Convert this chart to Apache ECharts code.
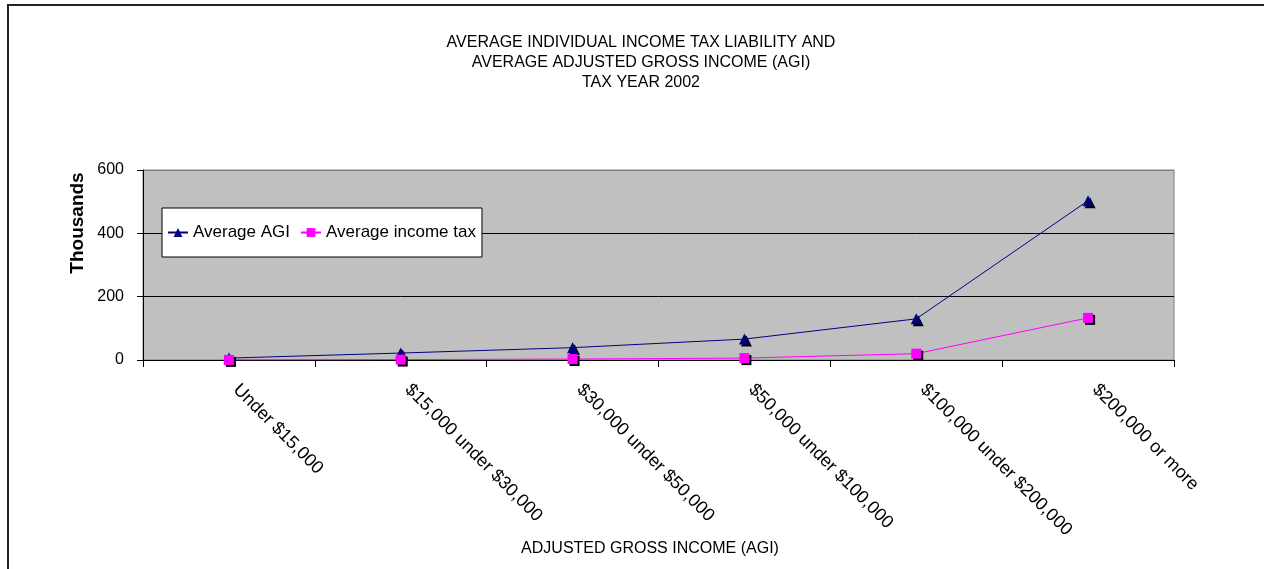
<!DOCTYPE html>
<html>
<head>
    <meta charset="utf-8">
    <title>Average income tax liability and AGI, 2002</title>
    <script src="https://cdn.jsdelivr.net/npm/echarts@6/dist/echarts.min.js"></script>
    <style>
        html, body { margin: 0; padding: 0; background: #fff; }
    </style>
</head>
<body>
    <div id="main" style="width: 1264px;height:569px;"></div>

    <script type="text/javascript">
        // income brackets
        var categories = ['Under $15,000', '$15,000 under $30,000', '$30,000 under $50,000',
            '$50,000 under $100,000', '$100,000 under $200,000', '$200,000 or more'];
        // values in thousands of dollars
        var avgAgi = [6, 22, 39, 66, 130, 503];
        var avgTax = [0.3, 1.3, 3, 6, 20, 133];

        var titleLines = ['AVERAGE INDIVIDUAL INCOME TAX LIABILITY AND',
            'AVERAGE ADJUSTED GROSS INCOME (AGI)', 'TAX YEAR 2002'];

        var font = 'Liberation Sans, Arial, sans-serif';
        var myChart = echarts.init(document.getElementById('main'));

        var shadow = { shadowColor: '#000', shadowOffsetX: 2, shadowOffsetY: 2, shadowBlur: 0 };

        var option = {
            animation: false,
            textStyle: { fontFamily: font },
            graphic: [
                // outer frame (left and top edges)
                {
                    type: 'polyline',
                    shape: { points: [[8, 600], [8, 5], [1300, 5]] },
                    style: { stroke: '#222', lineWidth: 2, fill: null }
                },
                {
                    type: 'text', x: 641, y: 33,
                    style: {
                        text: titleLines.join('\n'), fontSize: 16, lineHeight: 20,
                        fontFamily: font, fill: '#000', textAlign: 'center'
                    }
                },
                {
                    type: 'text', x: 78, y: 223, rotation: Math.PI / 2,
                    style: {
                        text: 'Thousands', fontSize: 19, fontWeight: 'bold',
                        fontFamily: font, fill: '#000', textAlign: 'center', textVerticalAlign: 'middle'
                    }
                },
                {
                    type: 'text', x: 650, y: 549,
                    style: {
                        text: 'ADJUSTED GROSS INCOME (AGI)', fontSize: 16,
                        fontFamily: font, fill: '#000', textAlign: 'center', textVerticalAlign: 'middle'
                    }
                }
            ],
            legend: {
                left: 162, top: 208,
                orient: 'horizontal',
                padding: [16, 6, 16, 5],
                itemGap: 10, itemWidth: 20, itemHeight: 11,
                backgroundColor: '#fff', borderColor: '#000', borderWidth: 1,
                selectedMode: false,
                textStyle: { fontSize: 17, color: '#000', fontFamily: font },
                data: ['Average AGI', 'Average income tax']
            },
            grid: {
                left: 143, right: 90, top: 170, bottom: 209,
                show: true, backgroundColor: '#C0C0C0', borderColor: '#808080', borderWidth: 1
            },
            xAxis: {
                type: 'category',
                data: categories,
                boundaryGap: true,
                axisLine: { lineStyle: { color: '#000', width: 1 } },
                axisTick: { show: true, length: 7, inside: false, lineStyle: { color: '#000' } },
                axisLabel: {
                    rotate: -45, interval: 0, margin: 20, fontSize: 18, color: '#000',
                    fontFamily: font, padding: [0, 0, 0, 10]
                },
                splitLine: { show: false }
            },
            yAxis: {
                type: 'value',
                min: 0, max: 600, interval: 200,
                axisLine: { show: true, lineStyle: { color: '#000' } },
                axisTick: { show: true, length: 6, lineStyle: { color: '#000' } },
                axisLabel: { fontSize: 16, color: '#000', margin: 19, fontFamily: font },
                splitLine: { show: true, lineStyle: { color: ['#000', '#000', '#000', '#808080'], width: 1 } }
            },
            series: [
                {
                    name: 'Average AGI',
                    type: 'line',
                    data: avgAgi,
                    symbol: 'triangle', symbolSize: 11,
                    lineStyle: { color: '#000080', width: 1 },
                    itemStyle: Object.assign({ color: '#000080' }, shadow)
                },
                {
                    name: 'Average income tax',
                    type: 'line',
                    data: avgTax,
                    symbol: 'rect', symbolSize: 10,
                    lineStyle: { color: '#FF00FF', width: 1 },
                    itemStyle: Object.assign({ color: '#FF00FF' }, shadow)
                }
            ]
        };

        myChart.setOption(option);
    </script>
</body>
</html>
